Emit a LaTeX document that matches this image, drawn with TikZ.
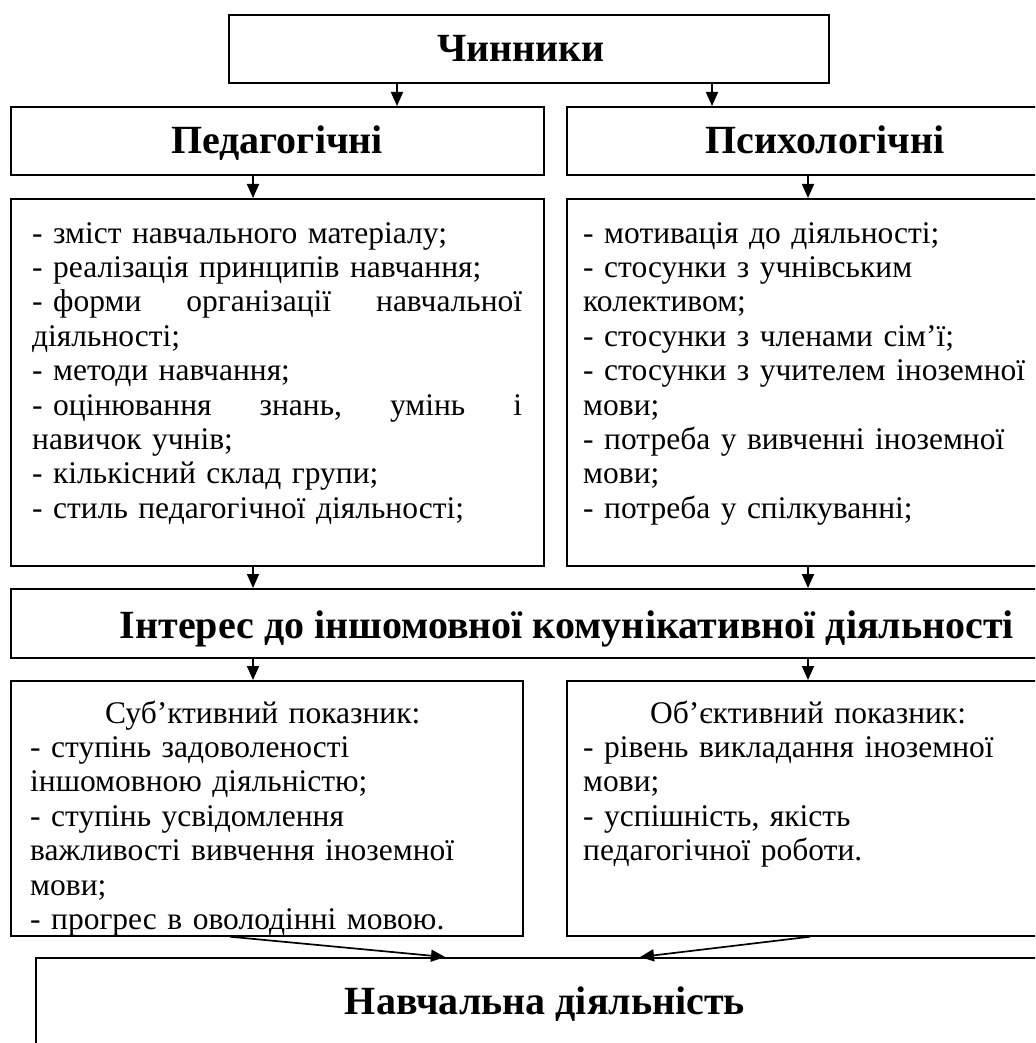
\documentclass[tikz,border=0pt]{standalone}
\usepackage{fontspec}
\setmainfont{Liberation Serif}
\usetikzlibrary{arrows.meta}
\tikzset{
  box/.style={draw, line width=1.7pt, rectangle, inner sep=0pt, anchor=north west},
  arr/.style={line width=1.7pt, -{Triangle[length=14pt,width=12pt]}},
  head/.style={inner sep=0pt, anchor=base, font=\fontsize{40}{46}\selectfont\bfseries},
  body/.style={inner sep=0pt, anchor=base west, align=left, font=\fontsize{31.5}{34.4}\selectfont}
}
\begin{document}
\begin{tikzpicture}[x=1pt,y=-1pt]
\useasboundingbox (0,0) rectangle (1035,1043);
\clip (0,0) rectangle (1035,1043);
% boxes
\node[box, minimum width=600pt, minimum height=68pt] (chin) at (228,14) {};
\node[box, minimum width=533pt, minimum height=68pt] (ped) at (10,106) {};
\node[box, minimum width=500pt, minimum height=68pt] (psy) at (566,106) {};
\node[box, minimum width=533pt, minimum height=367pt] (pedl) at (10,198) {};
\node[box, minimum width=500pt, minimum height=367pt] (psyl) at (566,198) {};
\node[box, minimum width=1060pt, minimum height=69pt] (int) at (10,588) {};
\node[box, minimum width=512pt, minimum height=255pt] (subj) at (10,680) {};
\node[box, minimum width=500pt, minimum height=255pt] (obj) at (566,680) {};
\node[box, minimum width=1040pt, minimum height=120pt] (nav) at (35,957) {};
% headings
\node[head] (chint) at (521,62) {Чинники};
\node[head] (pedt) at (277,154) {Педагогічні};
\node[head] (psyt) at (825,154) {Психологічні};
\node[head] (intt) at (567,638) {Інтерес до іншомовної комунікативної діяльності};
\node[head] (navt) at (545,1014) {Навчальна діяльність};
% lists
\node[body, text width=490pt] (pedlt) at (32,243) {%
- зміст навчального матеріалу;\\
- реалізація принципів навчання;\\
- форми\hfill організації\hfill навчальної\\
діяльності;\\
- методи навчання;\\
- оцінювання\hfill знань,\hfill умінь\hfill і\\
навичок учнів;\\
- кількісний склад групи;\\
- стиль педагогічної діяльності;};
\node[body, text width=450pt] (psylt) at (583,243) {%
- мотивація до діяльності;\\
- стосунки з учнівським\\
колективом;\\
- стосунки з членами сім’ї;\\
- стосунки з учителем іноземної\\
мови;\\
- потреба у вивченні іноземної\\
мови;\\
- потреба у спілкуванні;};
\node[body, text width=480pt] (subjt) at (30,723) {%
\hspace*{75pt}Суб’ктивний показник:\\
- ступінь задоволеності\\
іншомовною діяльністю;\\
- ступінь усвідомлення\\
важливості вивчення іноземної\\
мови;\\
- прогрес в оволодінні мовою.};
\node[body, text width=450pt] (objt) at (583,723) {%
\hspace*{67pt}Об’єктивний показник:\\
- рівень викладання іноземної\\
мови;\\
- успішність, якість\\
педагогічної роботи.};
% connectors
\coordinate (xa) at (397,0);
\coordinate (xb) at (712,0);
\coordinate (xl) at (253,0);
\coordinate (xr) at (808,0);
\coordinate (s1) at (230,0);
\coordinate (s2) at (810,0);
\coordinate (t1) at (445,0);
\coordinate (t2) at (640,0);
\draw[arr] (chin.south -| xa) -- (ped.north -| xa);
\draw[arr] (chin.south -| xb) -- (psy.north -| xb);
\draw[arr] (ped.south -| xl) -- (pedl.north -| xl);
\draw[arr] (psy.south -| xr) -- (psyl.north -| xr);
\draw[arr] (pedl.south -| xl) -- (int.north -| xl);
\draw[arr] (psyl.south -| xr) -- (int.north -| xr);
\draw[arr] (int.south -| xl) -- (subj.north -| xl);
\draw[arr] (int.south -| xr) -- (obj.north -| xr);
\draw[arr] (subj.south -| s1) -- (nav.north -| t1);
\draw[arr] (obj.south -| s2) -- (nav.north -| t2);
\end{tikzpicture}
\end{document}
